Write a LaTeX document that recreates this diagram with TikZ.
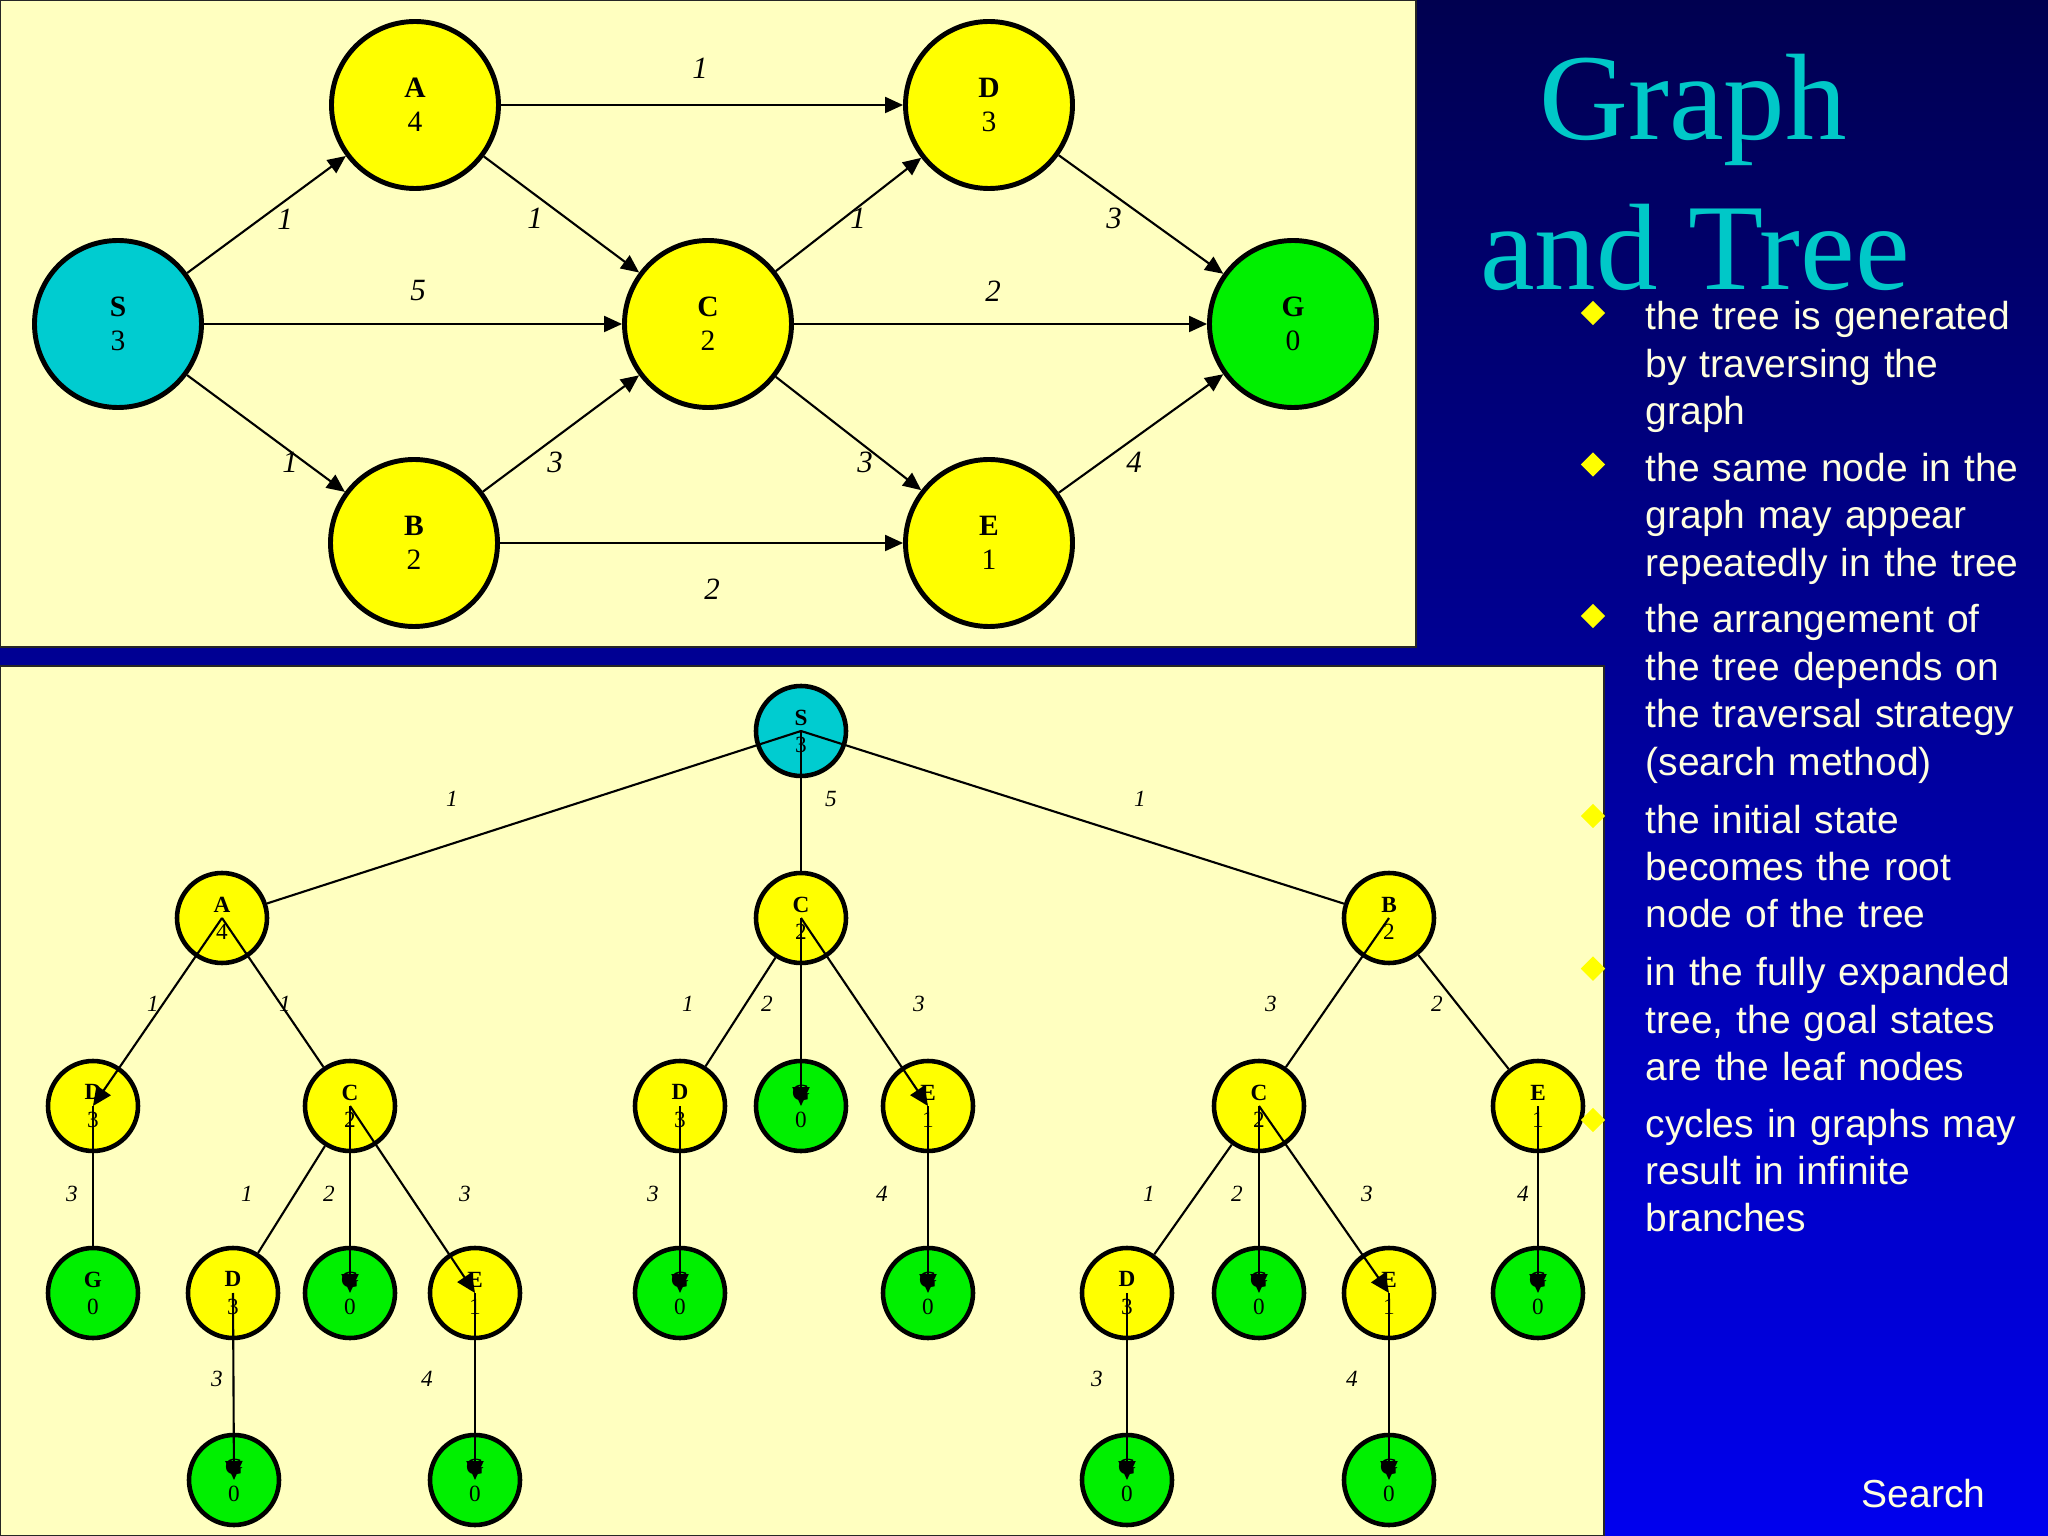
\documentclass[tikz,border=0pt]{standalone}
\usepackage{fontspec}
\setmainfont{Liberation Serif}
\setsansfont{Liberation Sans}
\usetikzlibrary{arrows.meta,shapes.geometric}
\definecolor{bgtop}{RGB}{0,0,80}
\definecolor{bgbot}{RGB}{0,0,238}
\definecolor{panelyel}{RGB}{255,255,192}
\definecolor{ndcyan}{RGB}{0,204,208}
\definecolor{ndyel}{RGB}{255,255,0}
\definecolor{ndgreen}{RGB}{0,240,0}
\definecolor{ttlcyan}{RGB}{0,200,200}
\definecolor{txtcream}{RGB}{255,255,224}

\begin{document}
\begin{tikzpicture}[
    gnode/.style={circle, draw, line width=1.4pt, minimum size=1.67cm, inner sep=0pt,
                  align=center, font=\fontsize{8.4}{9.6}\selectfont},
    tnode/.style={circle, draw, line width=1.3pt, minimum size=0.90cm, inner sep=0pt,
                  align=center, font=\fontsize{6.6}{7.7}\selectfont},
    glab/.style={font=\fontsize{8.8}{10}\selectfont\itshape},
    tlab/.style={font=\fontsize{6.6}{7}\selectfont\itshape},
    arr/.style={-{Triangle[length=0.18cm, width=0.16cm]}, line width=0.6pt},
    tarr/.style={-{Triangle[length=0.19cm, width=0.17cm]}, line width=0.6pt},
    tline/.style={line width=0.6pt},
    panel/.style={fill=panelyel, draw=black!85, line width=0.7pt},
    ttl/.style={anchor=base, inner sep=0pt, text=ttlcyan, font=\fontsize{35}{42}\selectfont},
    btxt/.style={anchor=base west, text width=4.0cm, align=left, inner sep=0pt,
                 text=txtcream, font=\sffamily\fontsize{11.1}{13.5}\selectfont},
    dia/.style={diamond, fill=ndyel, minimum width=0.25cm, minimum height=0.25cm, inner sep=0pt}
  ]
  \useasboundingbox (0,0) rectangle (20.48,-15.36);
  \fill[top color=bgtop, bottom color=bgbot] (0,0) rectangle (20.48,-15.36);

  % panels
  \draw[panel] (0,0) rectangle (14.16,-6.47);
  \draw[panel] (0,-6.66) rectangle (16.04,-15.36);

  % graph
  \node[gnode, fill=ndcyan]  (S) at (1.18,-3.24) {\textbf{S}\\3};
  \node[gnode, fill=ndyel]   (A) at (4.15,-1.05) {\textbf{A}\\4};
  \node[gnode, fill=ndyel]   (D) at (9.89,-1.05) {\textbf{D}\\3};
  \node[gnode, fill=ndyel]   (C) at (7.08,-3.24) {\textbf{C}\\2};
  \node[gnode, fill=ndgreen] (G) at (12.93,-3.24) {\textbf{G}\\0};
  \node[gnode, fill=ndyel]   (B) at (4.14,-5.43) {\textbf{B}\\2};
  \node[gnode, fill=ndyel]   (E) at (9.89,-5.43) {\textbf{E}\\1};
  \draw[arr] (S) -- (A);
  \draw[arr] (S) -- (C);
  \draw[arr] (S) -- (B);
  \draw[arr] (A) -- (D);
  \draw[arr] (A) -- (C);
  \draw[arr] (C) -- (D);
  \draw[arr] (D) -- (G);
  \draw[arr] (C) -- (G);
  \draw[arr] (C) -- (E);
  \draw[arr] (B) -- (C);
  \draw[arr] (B) -- (E);
  \draw[arr] (E) -- (G);
  \node[glab] (lSA) at (2.85,-2.19) {1};
  \node[glab] (lSC) at (4.18,-2.91) {5};
  \node[glab] (lSB) at (2.90,-4.62) {1};
  \node[glab] (lAD) at (7.00,-0.68) {1};
  \node[glab] (lAC) at (5.35,-2.18) {1};
  \node[glab] (lCD) at (8.58,-2.18) {1};
  \node[glab] (lDG) at (11.14,-2.18) {3};
  \node[glab] (lCG) at (9.93,-2.91) {2};
  \node[glab] (lCE) at (8.65,-4.62) {3};
  \node[glab] (lBC) at (5.55,-4.62) {3};
  \node[glab] (lBE) at (7.12,-5.89) {2};
  \node[glab] (lEG) at (11.34,-4.62) {4};

  % tree
  \node[tnode, fill=ndcyan]  (S0) at (8.01,-7.31) {\textbf{S}\\3};
  \node[tnode, fill=ndyel]   (A1) at (2.22,-9.18) {\textbf{A}\\4};
  \node[tnode, fill=ndyel]   (C1) at (8.01,-9.18) {\textbf{C}\\2};
  \node[tnode, fill=ndyel]   (B1) at (13.89,-9.18) {\textbf{B}\\2};
  \node[tnode, fill=ndyel]   (D2a) at (0.93,-11.06) {\textbf{D}\\3};
  \node[tnode, fill=ndyel]   (C2a) at (3.50,-11.06) {\textbf{C}\\2};
  \node[tnode, fill=ndyel]   (D2b) at (6.80,-11.06) {\textbf{D}\\3};
  \node[tnode, fill=ndgreen] (G2)  at (8.01,-11.06) {\textbf{G}\\0};
  \node[tnode, fill=ndyel]   (E2a) at (9.28,-11.06) {\textbf{E}\\1};
  \node[tnode, fill=ndyel]   (C2b) at (12.59,-11.06) {\textbf{C}\\2};
  \node[tnode, fill=ndyel]   (E2b) at (15.38,-11.06) {\textbf{E}\\1};
  \node[tnode, fill=ndgreen] (G3a) at (0.93,-12.93) {\textbf{G}\\0};
  \node[tnode, fill=ndyel]   (D3a) at (2.33,-12.93) {\textbf{D}\\3};
  \node[tnode, fill=ndgreen] (G3b) at (3.50,-12.93) {\textbf{G}\\0};
  \node[tnode, fill=ndyel]   (E3a) at (4.75,-12.93) {\textbf{E}\\1};
  \node[tnode, fill=ndgreen] (G3c) at (6.80,-12.93) {\textbf{G}\\0};
  \node[tnode, fill=ndgreen] (G3d) at (9.28,-12.93) {\textbf{G}\\0};
  \node[tnode, fill=ndyel]   (D3b) at (11.27,-12.93) {\textbf{D}\\3};
  \node[tnode, fill=ndgreen] (G3e) at (12.59,-12.93) {\textbf{G}\\0};
  \node[tnode, fill=ndyel]   (E3b) at (13.89,-12.93) {\textbf{E}\\1};
  \node[tnode, fill=ndgreen] (G3f) at (15.38,-12.93) {\textbf{G}\\0};
  \node[tnode, fill=ndgreen] (G4a) at (2.34,-14.80) {\textbf{G}\\0};
  \node[tnode, fill=ndgreen] (G4b) at (4.75,-14.80) {\textbf{G}\\0};
  \node[tnode, fill=ndgreen] (G4c) at (11.27,-14.80) {\textbf{G}\\0};
  \node[tnode, fill=ndgreen] (G4d) at (13.89,-14.80) {\textbf{G}\\0};

  \draw[tline] (S0.center) -- (A1);
  \draw[tline] (S0.center) -- (C1);
  \draw[tline] (S0.center) -- (B1);
  \draw[tarr]  (A1.center) -- (D2a.center);
  \draw[tline] (A1.center) -- (C2a);
  \draw[tline] (D2a.center) -- (G3a);
  \draw[tline] (C2a) -- (D3a);
  \draw[tarr]  (C2a.center) -- (G3b.center);
  \draw[tarr]  (C2a.center) -- (E3a.center);
  \draw[tarr]  (D3a.center) -- (G4a.center);
  \draw[tarr]  (E3a.center) -- (G4b.center);
  \draw[tline] (C1) -- (D2b);
  \draw[tarr]  (C1.center) -- (G2.center);
  \draw[tarr]  (C1.center) -- (E2a.center);
  \draw[tarr]  (D2b.center) -- (G3c.center);
  \draw[tarr]  (E2a.center) -- (G3d.center);
  \draw[tline] (B1.center) -- (C2b);
  \draw[tline] (B1) -- (E2b);
  \draw[tline] (C2b) -- (D3b);
  \draw[tarr]  (C2b.center) -- (G3e.center);
  \draw[tarr]  (C2b.center) -- (E3b.center);
  \draw[tarr]  (E2b.center) -- (G3f.center);
  \draw[tarr]  (D3b.center) -- (G4c.center);
  \draw[tarr]  (E3b.center) -- (G4d.center);

  \node[tlab] (tSA) at (4.52,-7.99) {1};
  \node[tlab] (tSC) at (8.31,-7.99) {5};
  \node[tlab] (tSB) at (11.40,-7.99) {1};
  \node[tlab] (tAD) at (1.53,-10.04) {1};
  \node[tlab] (tAC) at (2.85,-10.04) {1};
  \node[tlab] (tCD) at (6.88,-10.04) {1};
  \node[tlab] (tCG) at (7.67,-10.04) {2};
  \node[tlab] (tCE) at (9.19,-10.04) {3};
  \node[tlab] (tBC) at (12.71,-10.04) {3};
  \node[tlab] (tBE) at (14.37,-10.04) {2};
  \node[tlab] (tDGa) at (0.72,-11.94) {3};
  \node[tlab] (tCDa) at (2.47,-11.94) {1};
  \node[tlab] (tCGa) at (3.29,-11.94) {2};
  \node[tlab] (tCEa) at (4.65,-11.94) {3};
  \node[tlab] (tDGb) at (6.53,-11.94) {3};
  \node[tlab] (tEGb) at (8.82,-11.94) {4};
  \node[tlab] (tCDb) at (11.49,-11.94) {1};
  \node[tlab] (tCGb) at (12.37,-11.94) {2};
  \node[tlab] (tCEb) at (13.67,-11.94) {3};
  \node[tlab] (tEGc) at (15.23,-11.94) {4};
  \node[tlab] (tDGc) at (2.17,-13.79) {3};
  \node[tlab] (tEGd) at (4.27,-13.79) {4};
  \node[tlab] (tDGd) at (10.97,-13.79) {3};
  \node[tlab] (tEGe) at (13.52,-13.79) {4};

  % title and bullets
  \node[ttl] (t1) at (16.93,-1.40) {Graph};
  \node[ttl] (t2) at (16.95,-2.90) {and Tree};

  \node[btxt] (b1) at (16.45,-3.30) {the tree is generated\\by traversing the\\graph};
  \node[btxt] (b2) at (16.45,-4.815) {the same node in the\\graph may appear\\repeatedly in the tree};
  \node[btxt] (b3) at (16.45,-6.33) {the arrangement of\\the tree depends on\\the traversal strategy\\(search method)};
  \node[btxt] (b4) at (16.45,-8.33) {the initial state\\becomes the root\\node of the tree};
  \node[btxt] (b5) at (16.45,-9.856) {in the fully expanded\\tree, the goal states\\are the leaf nodes};
  \node[btxt] (b6) at (16.45,-11.37) {cycles in graphs may\\result in infinite\\branches};
  \node[dia] (d1) at (15.93,-3.13) {};
  \node[dia] (d2) at (15.93,-4.645) {};
  \node[dia] (d3) at (15.93,-6.16) {};
  \node[dia] (d4) at (15.93,-8.16) {};
  \node[dia] (d5) at (15.93,-9.686) {};
  \node[dia] (d6) at (15.93,-11.20) {};

  \node[btxt, text width=] (srch) at (18.61,-15.07) {Search};
\end{tikzpicture}
\end{document}
